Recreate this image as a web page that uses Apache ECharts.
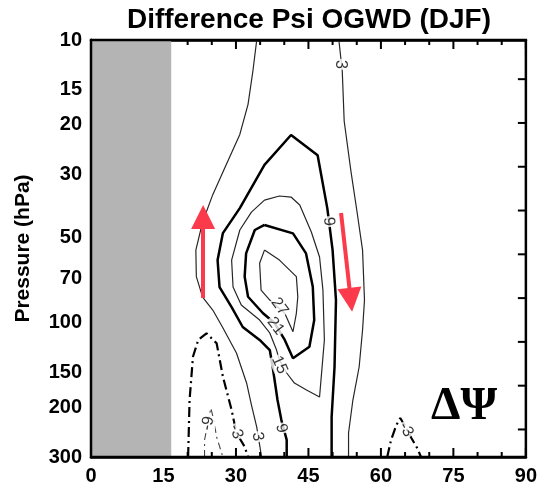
<!DOCTYPE html>
<html>
<head>
<meta charset="utf-8">
<script src="https://cdn.jsdelivr.net/npm/echarts@6/dist/echarts.min.js"></script>
<style>
html,body{margin:0;padding:0;background:#fff;}
#chart{width:540px;height:491px;}
</style>
</head>
<body>
<div id="chart"></div>
<script>
// ---------- data (latitude in degrees N, pressure in hPa) ----------
const latTicks = [0, 15, 30, 45, 60, 75, 90];
const latMinorTicks = [5, 10, 20, 25, 35, 40, 50, 55, 65, 70, 80, 85];
const pressureTicks = [10, 15, 20, 30, 50, 70, 100, 150, 200, 300];
const heightTicksKm = [10, 12.5, 15, 17.5, 20, 22.5, 25, 27.5, 30];
const grayBand = [0, 16.6];

const contour3West = [[34.3,10],[33.5,12.9],[32.5,16.9],[30.8,21.6],[28.0,27.6],[25.2,35.3],[23.1,44.1],[21.7,55.5],[21.8,68.9],[23.1,81.4],[25.2,90.5],[27.2,103.9],[30.1,128.5],[32.2,164],[33.2,196],[34.3,235],[35.3,300]];
const contour3East = [[51.3,10],[52.0,12.9],[52.4,19.4],[53.8,29.2],[55.0,40.0],[56.2,55.5],[56.6,83.4],[56.2,106.5],[55.5,143.7],[54.2,188.5],[53.3,246.7],[53.3,300]];
const contour9 = [[40.5,300],[40.5,261],[39.4,222],[38.6,188.5],[37.6,144],[37.0,125.4],[34.9,115.5],[31.4,103.9],[29.1,88.3],[26.6,75.0],[26.2,60.2],[27.3,48.3],[30.8,39.4],[35.9,27.7],[41.4,21.7],[46.9,25.6],[48.9,39.4],[50.0,55.5],[50.7,83.4],[50.4,144],[49.8,216.5],[49.8,300]];
const contour15 = [[35.9,36.9],[39.0,35.7],[41.4,36.0],[43.2,38.4],[45.6,47.9],[47.3,58.7],[48.0,76.9],[48.3,115.5],[47.3,183.9],[44.6,173.7],[42.1,164.1],[40.5,151.2],[39.0,136.0],[38.4,125.4],[37.0,109.1],[34.9,98.2],[31.1,86.8],[29.4,75.0],[29.1,60.2],[30.8,47.1],[33.2,40.7],[35.9,36.9]];
const contour21 = [[35.9,45.2],[41.8,48.4],[44.5,57.0],[45.9,74.8],[46.2,98.2],[45.2,122.1],[41.8,134.1],[40.1,115.5],[38.0,100.6],[35.6,92.9],[32.5,81.2],[31.8,68.9],[32.1,57.0],[33.9,47.1],[35.9,45.2]];
const contour27 = [[35.9,55.5],[39.0,60.2],[42.5,68.9],[42.8,81.2],[42.5,92.9],[41.8,108.0],[40.1,92.9],[37.0,83.4],[35.2,76.9],[34.9,61.8],[35.9,55.5]];
const contourNeg3West = [[20.1,300],[20.4,188.5],[21.1,132.4],[22.2,115.5],[23.9,109.4],[26.0,118.7],[27.3,155.8],[29.1,204.5],[30.1,246.7],[31.8,275.9],[32.5,300]];
const contourNeg9 = [[23.5,300],[23.5,261.2],[24.2,227.3],[24.8,201.2],[25.4,221.9],[26.0,254.9],[27.3,300]];
const contourNeg3East = [[61.3,300],[62.1,261.2],[63.2,231.1],[64.0,218.3],[65.0,233.0],[66.3,257.0],[67.5,278.8],[68.3,300]];

const labelText = ['3', '9', '27', '21', '15', '9', '3', '-3', '-9', '-3'];
const labelLat  = [51.7, 49.2, 39.0, 38.2, 39.0, 39.4, 34.5, 30.0, 24.2, 65.2];
const labelP    = [12.2, 44.0, 88.0, 103.1, 141.5, 237.4, 254.2, 244.0, 228.0, 240.0];

const arrowUp   = [[23.2, 82.0], [23.2, 42.4]];
const arrowDown = [[51.75, 41.0], [53.76, 83.25]];

// ---------- styles ----------
const FONT = '"Liberation Sans", Arial, Helvetica, sans-serif';
const SERIF = '"Liberation Serif", "Times New Roman", serif';
const RED = '#fb3a4c';
const labelRotate = [-90, -85, -54, -52, -66, -77, -80, -70, 80, -60];
const thin = {color:'#262626', width:1.2, type:'solid'};
const thick = {color:'#000', width:2.5, type:'solid'};
const thickDash = {color:'#000', width:2.2, type:[10,4,2,4]};
const thinDash = {color:'#444', width:1.1, type:[7,4,2,4]};

const contours = [
  [contour3West, thin], [contour3East, thin], [contour9, thick], [contour15, thin],
  [contour21, thick], [contour27, thin], [contourNeg3West, thickDash],
  [contourNeg3East, thickDash], [contourNeg9, thinDash]
];

const P_TOP = pressureTicks[0];
const P_BOTTOM = pressureTicks[pressureTicks.length - 1];
// height axis (right side): z = 7 km * ln(1000 / p)  <=>  p = 1000 * exp(-z / 7)
const zOf = p => 7 * Math.log(1000 / p);
const pOf = z => 1000 * Math.exp(-z / 7);

function latAxis(pos, withLabels) {
  return {
    type:'value', min:latTicks[0], max:latTicks[latTicks.length-1], interval:15, position:pos,
    splitLine:{show:false},
    axisLine:{show:true, lineStyle:{color:'#000', width:2.5}},
    axisTick:{show:false}, minorTick:{show:false},
    axisLabel: withLabels
      ? {show:true, margin:9, color:'#000', fontSize:20, fontWeight:'bold', fontFamily:FONT}
      : {show:false}
  };
}

const series = contours.map(([d, st]) => ({
  type:'line', data:d, xAxisIndex:0, yAxisIndex:0, showSymbol:false, symbol:'none',
  smooth:false, silent:true, lineStyle:st, z:3, animation:false
}));

// inward tick marks along one horizontal edge; dy = +1 goes down, -1 goes up
function latTickSeries(values, pEdge, dy, len) {
  return {
    type:'custom', xAxisIndex:0, yAxisIndex:0, silent:true, z:8, clip:false,
    data: values.map(v => [v, pEdge]),
    encode:{x:0, y:1},
    renderItem:(params, api) => {
      const c = api.coord([api.value(0), api.value(1)]);
      return {type:'line', shape:{x1:c[0], y1:c[1], x2:c[0] + 0.001, y2:c[1] + dy * len},
        style:{stroke:'#000', lineWidth:2}};
    }
  };
}
series.push(latTickSeries(latTicks, P_BOTTOM, -1, 9));
series.push(latTickSeries(latMinorTicks, P_BOTTOM, -1, 5));
series.push(latTickSeries(latTicks, P_TOP, 1, 9));
series.push(latTickSeries(latMinorTicks, P_TOP, 1, 5));

// inward ticks of the right-hand height axis (km)
series.push({
  type:'custom', xAxisIndex:0, yAxisIndex:0, silent:true, z:8, clip:false,
  data: heightTicksKm.map(z => [latTicks[latTicks.length-1], pOf(z)]),
  encode:{x:0, y:1},
  renderItem:(params, api) => {
    const c = api.coord([api.value(0), api.value(1)]);
    return {type:'line', shape:{x1:c[0], y1:c[1], x2:c[0] - 8, y2:c[1]}, style:{stroke:'#000', lineWidth:2}};
  }
});

// gray band (no data region), drawn through the axes' scales
series.push({
  type:'custom', xAxisIndex:0, yAxisIndex:0, silent:true, z:11,
  data:[[grayBand[0], P_TOP, grayBand[1], P_BOTTOM]],
  encode:{x:[0,2], y:[1,3]},
  renderItem:(params, api) => {
    const a = api.coord([api.value(0), api.value(1)]);
    const b = api.coord([api.value(2), api.value(3)]);
    return {type:'rect',
      shape:{x:Math.min(a[0],b[0]), y:Math.min(a[1],b[1]), width:Math.abs(b[0]-a[0]), height:Math.abs(b[1]-a[1])},
      style:{fill:'#b4b4b4'}};
  }
});

// arrows
series.push({
  type:'line', data:[], xAxisIndex:0, yAxisIndex:0, silent:true, z:6,
  markLine:{silent:true, animation:false, symbol:['none','triangle'], symbolSize:24,
    label:{show:false}, emphasis:{disabled:true},
    lineStyle:{color:RED, width:4, type:'solid'}, itemStyle:{color:RED},
    data:[
      [{coord:arrowUp[0]}, {coord:arrowUp[1]}],
      [{coord:arrowDown[0]}, {coord:arrowDown[1]}]
    ]}
});

// contour labels
series.push({
  type:'scatter', xAxisIndex:0, yAxisIndex:0, silent:true, z:5, symbolSize:1,
  itemStyle:{color:'rgba(0,0,0,0)'},
  data: labelText.map((t, i) => ({value:[labelLat[i], labelP[i]], name:t, label:{rotate:labelRotate[i]}})),
  label:{show:true, position:'inside', formatter:p => p.name, color:'#000', fontSize:16,
    fontFamily:FONT, backgroundColor:'#fff', padding:[0,1]}
});

const option = {
  animation:false,
  textStyle:{fontFamily:FONT},
  grid:{left:91, right:13, top:40, bottom:34, show:true, z:12,
    borderColor:'#000', borderWidth:2.5, backgroundColor:'transparent'},
  xAxis:[ latAxis('bottom', true), latAxis('top', false) ],
  yAxis:[
    {
      type:'log', logBase:10, min:P_TOP, max:P_BOTTOM, inverse:true,
      position:'left',
      name:'Pressure (hPa)', nameLocation:'middle', nameGap:57, nameRotate:90,
      nameTextStyle:{color:'#000', fontSize:21, fontWeight:'bold', fontFamily:FONT},
      axisLine:{show:true, lineStyle:{color:'#000', width:2.5}},
      axisTick:{show:false},
      splitLine:{show:false},
      axisLabel:{customValues:pressureTicks, margin:9, color:'#000', fontSize:20, fontWeight:'bold', fontFamily:FONT}
    },
    {
      type:'value', position:'right',
      min:zOf(P_BOTTOM), max:zOf(P_TOP),
      axisLine:{show:true, lineStyle:{color:'#000', width:2.5}},
      axisTick:{show:false},
      axisLabel:{show:false}, splitLine:{show:false}
    }
  ],
  graphic:[
    {type:'text', x:309, y:20, z:20, silent:true,
      style:{text:'Difference Psi OGWD (DJF)', fill:'#000', fontSize:28, fontWeight:'bold', fontFamily:FONT,
        align:'center', verticalAlign:'middle', textAlign:'center', textVerticalAlign:'middle'}},
    {type:'text', x:464, y:407, z:20, silent:true,
      style:{text:'ΔΨ', fill:'#000', fontSize:47, fontWeight:'bold', fontFamily:SERIF,
        align:'center', verticalAlign:'middle', textAlign:'center', textVerticalAlign:'middle'}}
  ],
  series:series
};

const chart = echarts.init(document.getElementById('chart'), null, {renderer:'canvas'});
chart.setOption(option);
</script>
</body>
</html>
